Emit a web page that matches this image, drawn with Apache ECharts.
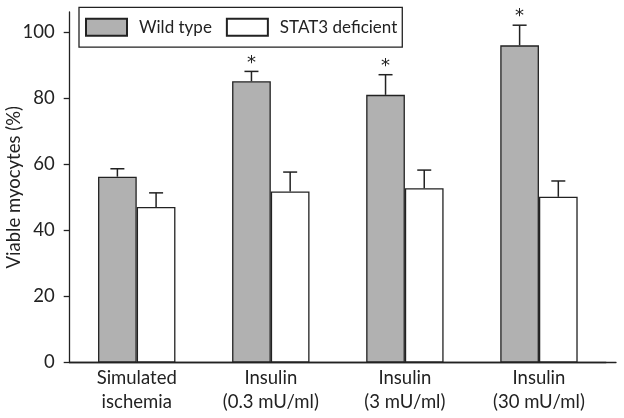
<!DOCTYPE html>
<html><head><meta charset="utf-8">
<script src="https://cdn.jsdelivr.net/npm/echarts@6/dist/echarts.min.js"></script>
<style>html,body{margin:0;padding:0;background:#fff}#c{width:624px;height:418px}</style>
</head><body><div id="c"></div>
<script>
const categories = ['Simulated\nischemia', 'Insulin\n(0.3 mU/ml)', 'Insulin\n(3 mU/ml)', 'Insulin\n(30 mU/ml)'];
const wildType = [56.3, 85.2, 81.1, 96.1];
const wildTypeErr = [2.4, 3.0, 6.1, 6.1];
const stat3 = [47.1, 51.8, 52.8, 50.2];
const stat3Err = [4.3, 5.9, 5.5, 4.8];
const significant = [false, true, true, true];
const yTicks = [0, 20, 40, 60, 80, 100];

const FONT = 'Lato';
const FS = 18.5;
const BW = 38.7;
const errData = [];
categories.forEach((c, i) => {
  errData.push([i, wildType[i], wildType[i] + wildTypeErr[i], -1, significant[i] ? 1 : 0]);
  errData.push([i, stat3[i], stat3[i] + stat3Err[i], 1, 0]);
});

const chart = echarts.init(document.getElementById('c'));
chart.setOption({
  animation: false,
  textStyle: {fontFamily: FONT},
  grid: [
    {left: 69.7, right: 18, top: 12, bottom: 55.5, containLabel: false, outerBoundsMode: 'none'},
    {left: 69.7, right: 8, top: 12, bottom: 55.5, containLabel: false, outerBoundsMode: 'none'}
  ],
  legend: {
    left: 79, top: 7.3, orient: 'horizontal', icon: 'rect',
    data: ['Wild type', 'STAT3 deficient'],
    itemWidth: 41, itemHeight: 17, itemGap: 14,
    borderColor: '#222', borderWidth: 1.3,
    padding: [10.4, 5, 10.4, 6],
    textStyle: {fontSize: 17, color: '#222', fontFamily: FONT, padding: [0, 0, 0, 7]}
  },
  xAxis: [{
    type: 'category', data: categories, gridIndex: 0,
    axisLine: {lineStyle: {color: '#222', width: 1.3}},
    axisTick: {show: false},
    axisLabel: {fontSize: FS, color: '#222', lineHeight: 23.5, margin: 4, fontFamily: FONT}
  }, {
    type: 'value', gridIndex: 1, min: 0, max: 1,
    axisLine: {show: true, onZero: false, lineStyle: {color: '#222', width: 1.3}},
    axisTick: {show: false}, axisLabel: {show: false}, splitLine: {show: false}
  }],
  yAxis: [{
    type: 'value', min: 0, max: 106.2, gridIndex: 0,
    name: 'Viable myocytes (%)', nameLocation: 'middle', nameGap: 46, nameMoveOverlap: false,
    nameTextStyle: {fontSize: FS, color: '#222', fontFamily: FONT},
    axisLine: {show: true, lineStyle: {color: '#222', width: 1.3}},
    axisTick: {show: true, length: 6, customValues: yTicks, lineStyle: {color: '#222', width: 1.3}},
    axisLabel: {fontSize: FS, color: '#222', margin: 15, customValues: yTicks, fontFamily: FONT},
    splitLine: {show: false}
  }, {
    type: 'value', gridIndex: 1, min: 0, max: 1, show: false
  }],
  series: [
    {name: 'Wild type', type: 'bar', data: wildType, barWidth: BW, barGap: '0%',
      itemStyle: {color: '#b1b1b1', borderColor: '#222', borderWidth: 1.3}},
    {name: 'STAT3 deficient', type: 'bar', data: stat3, barWidth: BW, barGap: '0%',
      itemStyle: {color: '#ffffff', borderColor: '#222', borderWidth: 1.3}},
    {type: 'custom', data: errData, z: 5,
      renderItem: function (params, api) {
        const i = api.value(0);
        const top = api.coord([i, api.value(1)]);
        const hi = api.coord([i, api.value(2)]);
        const x = top[0] + api.value(3) * BW / 2;
        const children = [
          {type: 'line', shape: {x1: x, y1: top[1], x2: x, y2: hi[1]}, style: {stroke: '#222', lineWidth: 1.5}},
          {type: 'line', shape: {x1: x - 7, y1: hi[1], x2: x + 7, y2: hi[1]}, style: {stroke: '#222', lineWidth: 1.5}}
        ];
        if (api.value(4) === 1) {
          children.push({type: 'text', x: x, y: hi[1] + 0.5,
            style: {text: '*', fontSize: 18, fill: '#222', align: 'center', verticalAlign: 'bottom', fontFamily: 'DejaVu Sans'}});
        }
        return {type: 'group', children: children};
      }
    }
  ]
});
</script></body></html>
